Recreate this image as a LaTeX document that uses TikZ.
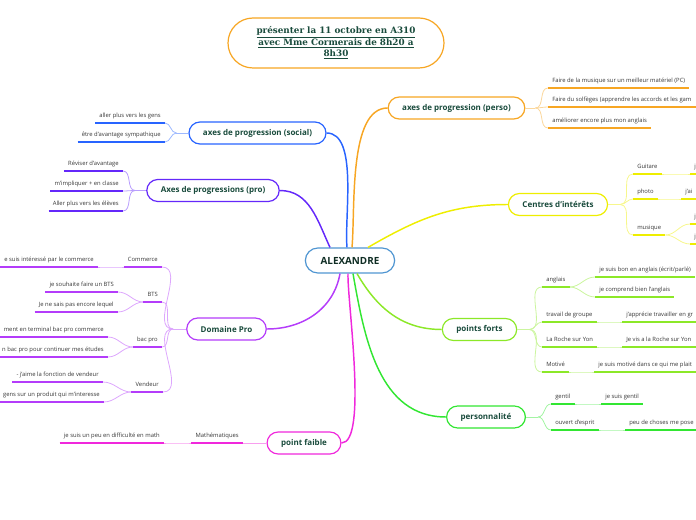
\documentclass[tikz,border=0pt]{standalone}
\usepackage{fontspec}
\setmainfont{Open Sans}
\newfontfamily\titlefont{DejaVu Serif}
\usetikzlibrary{positioning}
\definecolor{nodetext}{RGB}{25,75,60}
\definecolor{leaftext}{RGB}{55,55,55}
\definecolor{corange}{RGB}{247,166,35}
\definecolor{cyellow}{RGB}{238,238,0}
\definecolor{clime}{RGB}{140,232,40}
\definecolor{cgreen}{RGB}{50,230,50}
\definecolor{cmagenta}{RGB}{240,40,220}
\definecolor{cpurple}{RGB}{180,60,250}
\definecolor{cviolet}{RGB}{100,40,250}
\definecolor{cblue}{RGB}{40,100,255}
\definecolor{ccentre}{RGB}{80,150,210}

\begin{document}
\begin{tikzpicture}[
  x=0.75pt, y=-0.75pt,
  topic/.style={draw=#1, line width=0.9pt, fill=white, rounded corners=8.25pt, minimum height=16.5pt, inner xsep=10.5pt, inner ysep=0pt, font=\bfseries\fontsize{6}{7}\selectfont, text=nodetext},
  leaf/.style={inner xsep=3pt, inner ysep=3pt, text height=3.2pt, text depth=1pt, font=\fontsize{4.4}{5}\selectfont, text=leaftext},
  under/.style={draw=#1, line width=1.5pt},
  link/.style={draw=#1!45, line width=0.6pt},
  trunk/.style={draw=#1, line width=1.1pt}
]
  \useasboundingbox (0,0) rectangle (696,520);
  \clip (0,0) rectangle (696,520);

  % title and centre
  \node[draw=corange, line width=0.9pt, fill=white, rounded corners=18.75pt, minimum width=162pt, minimum height=37.5pt, align=center, text=nodetext, font=\titlefont\bfseries\fontsize{6.6}{8.6}\selectfont] (title) at (336,43) {
    \underline{présenter la 11 octobre en A310}\\
    \underline{avec Mme Cormerais de 8h20 a}\\
    \underline{8h30}
  };
  \node[topic=ccentre, minimum height=18.75pt, rounded corners=9.4pt, inner xsep=11.5pt, font=\bfseries\fontsize{7.4}{9}\selectfont, text=nodetext!60!black] (alex) at (350,260.5) {ALEXANDRE};

  % main topics
  \node[topic=corange] (perso) at (456.5,108) {axes de progression (perso)};
  \node[topic=cyellow] (centres) at (558,204.5) {Centres d'intérêts};
  \node[topic=clime] (forts) at (479.5,329.5) {points forts};
  \node[topic=cgreen] (caractere) at (486,417) {personnalité};
  \node[topic=cmagenta] (faible) at (304,443) {point faible};
  \node[topic=cpurple] (dompro) at (226.5,329) {Domaine Pro};
  \node[topic=cviolet] (axespro) at (213,190.5) {Axes de progressions (pro)};
  \node[topic=cblue] (social) at (257.5,133) {axes de progression (social)};

  % trunks
  \draw[trunk=corange] ([xshift=1.5pt]alex.north) to[out=85,in=180,looseness=0.7] (perso.west);
  \draw[trunk=cblue] ([xshift=-2.25pt]alex.north) to[out=95,in=0,looseness=0.7] (social.east);
  \draw[trunk=cviolet] ([xshift=-15pt]alex.north) to[out=115,in=0] (axespro.east);
  \draw[trunk=cyellow] ([xshift=13.5pt]alex.north) to[out=30,in=180] (centres.west);
  \draw[trunk=clime] ([xshift=5.25pt]alex.south) to[out=-60,in=180] (forts.west);
  \draw[trunk=cgreen] ([xshift=2.25pt]alex.south) to[out=-80,in=180] (caractere.west);
  \draw[trunk=cmagenta] ([xshift=-1.5pt]alex.south) to[out=-92,in=0,looseness=0.4] (faible.east);
  \draw[trunk=cpurple] ([xshift=-7.5pt]alex.south) to[out=-100,in=0] (dompro.east);

  % right side leaves
  \node[leaf, anchor=south west] (o1) at (548,88) {Faire de la musique sur un meilleur matériel (PC)};
  \node[leaf, anchor=south west] (o2) at (548,107) {Faire du solfèges (apprendre les accords et les gam};
  \node[leaf, anchor=south west] (o3) at (548,128) {améliorer encore plus mon anglais};

  \node[leaf, anchor=south west] (y1) at (633,174) {Guitare};
  \node[leaf, anchor=south west] (y1a) at (690,174) {je};
  \node[leaf, anchor=south west] (y2) at (633,199) {photo};
  \node[leaf, anchor=south west] (y2a) at (681,199) {j'ai};
  \node[leaf, anchor=south west] (y3) at (633,235) {musique};
  \node[leaf, anchor=south west] (y3a) at (690,224) {j};
  \node[leaf, anchor=south west] (y3b) at (690,244) {j};

  \node[leaf, anchor=south west] (g1) at (542,287) {anglais};
  \node[leaf, anchor=south west] (g1a) at (595,277) {je suis bon en anglais (écrit/parlé)};
  \node[leaf, anchor=south west] (g1b) at (595,297) {je comprend bien l'anglais};
  \node[leaf, anchor=south west] (g2) at (542,322) {travail de groupe};
  \node[leaf, anchor=south west] (g2a) at (622,322) {j'apprécie travailler en gr};
  \node[leaf, anchor=south west] (g3) at (542,347) {La Roche sur Yon};
  \node[leaf, anchor=south west] (g3a) at (622,347) {Je vis a la Roche sur Yon};
  \node[leaf, anchor=south west] (g4) at (542,372) {Motivé};
  \node[leaf, anchor=south west] (g4a) at (594,372) {je suis motivé dans ce qui me plait};

  \node[leaf, anchor=south west] (p1) at (551,404) {gentil};
  \node[leaf, anchor=south west] (p1a) at (601,404) {je suis gentil};
  \node[leaf, anchor=south west] (p2) at (551,430) {ouvert d'esprit};
  \node[leaf, anchor=south west] (p2a) at (625,430) {peu de choses me pose};

  % left side leaves
  \node[leaf, anchor=south east] (b1) at (165,123) {aller plus vers les gens};
  \node[leaf, anchor=south east] (b2) at (165,142) {être d'avantage sympathique};

  \node[leaf, anchor=south east] (v1) at (123,171) {Réviser d'avantage};
  \node[leaf, anchor=south east] (v2) at (123,191) {m'impliquer + en classe};
  \node[leaf, anchor=south east] (v3) at (123,211) {Aller plus vers les élèves};

  \node[leaf, anchor=south east] (d1) at (162,267) {Commerce};
  \node[leaf, anchor=south east] (d1a) at (98,267) {e suis intéressé par le commerce};
  \node[leaf, anchor=south east] (d2) at (162,302) {BTS};
  \node[leaf, anchor=south east] (d2a) at (118,292) {je souhaite faire un BTS};
  \node[leaf, anchor=south east] (d2b) at (118,312) {Je ne sais pas encore lequel};
  \node[leaf, anchor=south east] (d3) at (162,347) {bac pro};
  \node[leaf, anchor=south east] (d3a) at (108,337) {ment en terminal bac pro commerce};
  \node[leaf, anchor=south east] (d3b) at (108,357) {n bac pro pour continuer mes études};
  \node[leaf, anchor=south east] (d4) at (163,392) {Vendeur};
  \node[leaf, anchor=south east] (d4a) at (103,382) {- j'aime la fonction de vendeur};
  \node[leaf, anchor=south east] (d4b) at (104,402) {gens sur un produit qui m'interesse};

  \node[leaf, anchor=south east] (m1) at (243,443) {Mathématiques};
  \node[leaf, anchor=south east] (m1a) at (164,443) {je suis un peu en difficulté en math};

  % hubs and links, right side
  \draw[link=corange] (perso.east) -- ++(10,0) coordinate (hperso);
  \foreach \n in {o1,o2,o3} \draw[link=corange] (hperso) to[out=0,in=180] (\n.south west);
  \draw[link=cyellow] (centres.east) -- ++(12,0) coordinate (hcentres);
  \foreach \n in {y1,y2,y3} \draw[link=cyellow] (hcentres) to[out=0,in=180] (\n.south west);
  \draw[link=clime] (forts.east) -- ++(12,0) coordinate (hforts);
  \foreach \n in {g1,g2,g3,g4} \draw[link=clime] (hforts) to[out=0,in=180] (\n.south west);
  \draw[link=cgreen] (caractere.east) -- ++(12,0) coordinate (hcaractere);
  \foreach \n in {p1,p2} \draw[link=cgreen] (hcaractere) to[out=0,in=180] (\n.south west);
  \foreach \a/\b/\c in {y1/y1a/cyellow, y2/y2a/cyellow, y3/y3a/cyellow, y3/y3b/cyellow,
                        g1/g1a/clime, g1/g1b/clime, g2/g2a/clime, g3/g3a/clime, g4/g4a/clime,
                        p1/p1a/cgreen, p2/p2a/cgreen}
    \draw[link=\c] (\a.south east) to[out=0,in=180] (\b.south west);

  % hubs and links, left side
  \draw[link=cblue] (social.west) -- ++(-12,0) coordinate (hsocial);
  \foreach \n in {b1,b2} \draw[link=cblue] (hsocial) to[out=180,in=0] (\n.south east);
  \draw[link=cviolet] (axespro.west) -- ++(-11,0) coordinate (haxespro);
  \foreach \n in {v1,v2,v3} \draw[link=cviolet] (haxespro) to[out=180,in=0] (\n.south east);
  \draw[link=cpurple] (dompro.west) -- ++(-13,0) coordinate (hdompro);
  \foreach \n in {d1,d2,d3,d4} \draw[link=cpurple] (hdompro) to[out=180,in=0] (\n.south east);
  \draw[link=cmagenta] (faible.west) -- (m1.south east);
  \foreach \a/\b/\c in {d1/d1a/cpurple, d2/d2a/cpurple, d2/d2b/cpurple, d3/d3a/cpurple, d3/d3b/cpurple,
                        d4/d4a/cpurple, d4/d4b/cpurple, m1/m1a/cmagenta}
    \draw[link=\c] (\a.south west) to[out=180,in=0] (\b.south east);

  % underlines
  \foreach \n/\c in {o1/corange, o2/corange, o3/corange,
                     y1/cyellow, y1a/cyellow, y2/cyellow, y2a/cyellow, y3/cyellow, y3a/cyellow, y3b/cyellow,
                     g1/clime, g1a/clime, g1b/clime, g2/clime, g2a/clime, g3/clime, g3a/clime, g4/clime, g4a/clime,
                     p1/cgreen, p1a/cgreen, p2/cgreen, p2a/cgreen,
                     b1/cblue, b2/cblue, v1/cviolet, v2/cviolet, v3/cviolet,
                     d1/cpurple, d1a/cpurple, d2/cpurple, d2a/cpurple, d2b/cpurple, d3/cpurple, d3a/cpurple, d3b/cpurple,
                     d4/cpurple, d4a/cpurple, d4b/cpurple, m1/cmagenta, m1a/cmagenta}
    \draw[under=\c] (\n.south west) -- (\n.south east);
\end{tikzpicture}
\end{document}
